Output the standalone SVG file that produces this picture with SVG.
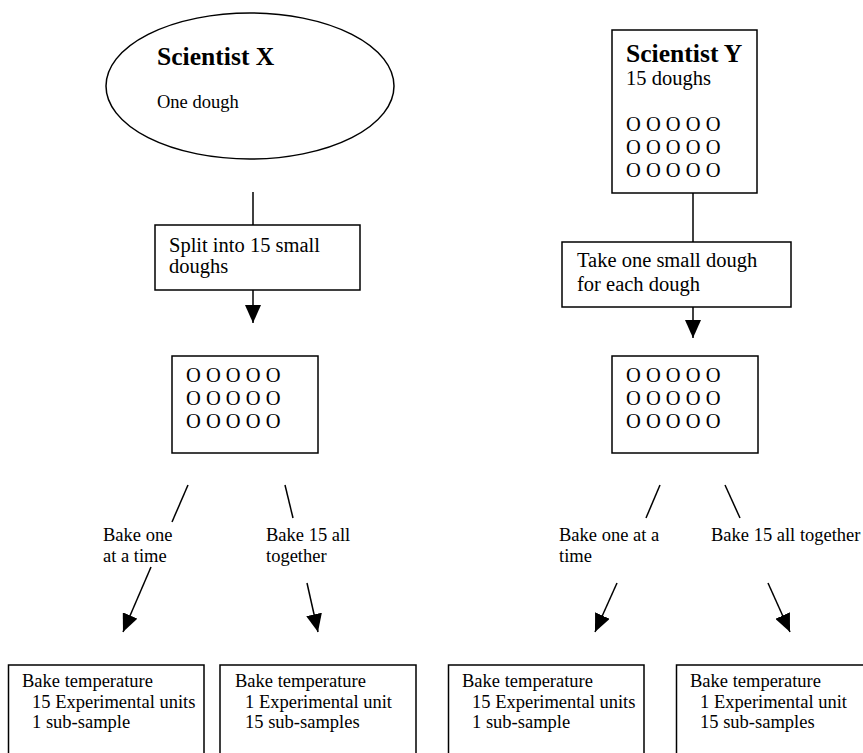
<svg xmlns="http://www.w3.org/2000/svg" width="863" height="753" viewBox="0 0 863 753">
<defs>
<style>
.s{fill:none;stroke:#000;stroke-width:1.5}
.t{font-family:"Liberation Serif","Times New Roman",serif;fill:#000}
.m{font-size:20.5px}
.n{font-size:18.5px}
.b{font-size:25.6px;font-weight:bold}
</style>
<marker id="ah" viewBox="0 0 18 16" refX="18" refY="8" markerWidth="18" markerHeight="16" markerUnits="userSpaceOnUse" orient="auto">
<path d="M0,0 L18,8 L0,16 z" fill="#000"/>
</marker>
</defs>
<rect width="863" height="753" fill="#fff"/>

<g id="scientistX">
<ellipse class="s" cx="250" cy="86" rx="144" ry="73" fill="#fff"/>
<text class="t b" x="157" y="65">Scientist X</text>
<text class="t n" x="157" y="108">One dough</text>
</g>

<g id="split">
<rect class="s" x="155" y="225" width="205" height="65"/>
<text class="t m" x="169" y="252">Split into 15 small</text>
<text class="t m" x="169" y="273">doughs</text>
</g>

<g id="doughsX">
<rect class="s" x="172" y="356" width="146" height="97"/>
<text class="t m" x="186" y="382">O O O O O</text>
<text class="t m" x="186" y="405">O O O O O</text>
<text class="t m" x="186" y="428">O O O O O</text>
</g>

<g id="scientistY">
<rect class="s" x="612" y="30" width="145" height="163"/>
<text class="t b" x="626" y="62">Scientist Y</text>
<text class="t m" x="626" y="85">15 doughs</text>
<text class="t m" x="626" y="131">O O O O O</text>
<text class="t m" x="626" y="154">O O O O O</text>
<text class="t m" x="626" y="177">O O O O O</text>
</g>

<g id="take">
<rect class="s" x="562" y="242" width="229" height="65"/>
<text class="t m" x="577" y="267">Take one small dough</text>
<text class="t m" x="577" y="291">for each dough</text>
</g>

<g id="doughsY">
<rect class="s" x="612" y="356" width="146" height="97"/>
<text class="t m" x="626" y="382">O O O O O</text>
<text class="t m" x="626" y="405">O O O O O</text>
<text class="t m" x="626" y="428">O O O O O</text>
</g>

<g id="result1">
<path class="s" d="M8.5,753 V665 H204 V753"/>
<text class="t n" x="22" y="687">Bake temperature</text>
<text class="t n" x="32" y="708">15 Experimental units</text>
<text class="t n" x="32" y="728">1 sub-sample</text>
</g>
<g id="result2">
<path class="s" d="M220,753 V665 H416 V753"/>
<text class="t n" x="235" y="687">Bake temperature</text>
<text class="t n" x="245" y="708">1 Experimental unit</text>
<text class="t n" x="245" y="728">15 sub-samples</text>
</g>
<g id="result3">
<path class="s" d="M448.5,753 V665 H644 V753"/>
<text class="t n" x="462" y="687">Bake temperature</text>
<text class="t n" x="472" y="708">15 Experimental units</text>
<text class="t n" x="472" y="728">1 sub-sample</text>
</g>
<g id="result4">
<path class="s" d="M676.5,753 V665 H863"/>
<text class="t n" x="690" y="687">Bake temperature</text>
<text class="t n" x="700" y="708">1 Experimental unit</text>
<text class="t n" x="700" y="728">15 sub-samples</text>
</g>

<g id="labels">
<text class="t n" x="103" y="541">Bake one</text>
<text class="t n" x="103" y="562">at a time</text>
<text class="t n" x="266" y="541">Bake 15 all</text>
<text class="t n" x="266" y="562">together</text>
<text class="t n" x="559" y="541">Bake one at a</text>
<text class="t n" x="559" y="562">time</text>
<text class="t n" x="711" y="541">Bake 15 all together</text>
</g>

<g id="connectors">
<line class="s" x1="253" y1="192" x2="253" y2="225"/>
<line class="s" x1="253" y1="290" x2="253" y2="323" marker-end="url(#ah)"/>
<line class="s" x1="693" y1="193" x2="693" y2="242"/>
<line class="s" x1="693" y1="307" x2="693" y2="338" marker-end="url(#ah)"/>
<line class="s" x1="188" y1="485" x2="172" y2="522"/>
<line class="s" x1="285" y1="485" x2="293" y2="518"/>
<line class="s" x1="151" y1="567" x2="123" y2="632" marker-end="url(#ah)"/>
<line class="s" x1="307" y1="583" x2="318" y2="632" marker-end="url(#ah)"/>
<line class="s" x1="660" y1="485" x2="646" y2="518"/>
<line class="s" x1="725" y1="485" x2="740" y2="518"/>
<line class="s" x1="617" y1="583" x2="595" y2="632" marker-end="url(#ah)"/>
<line class="s" x1="768" y1="583" x2="790" y2="632" marker-end="url(#ah)"/>
</g>
</svg>
